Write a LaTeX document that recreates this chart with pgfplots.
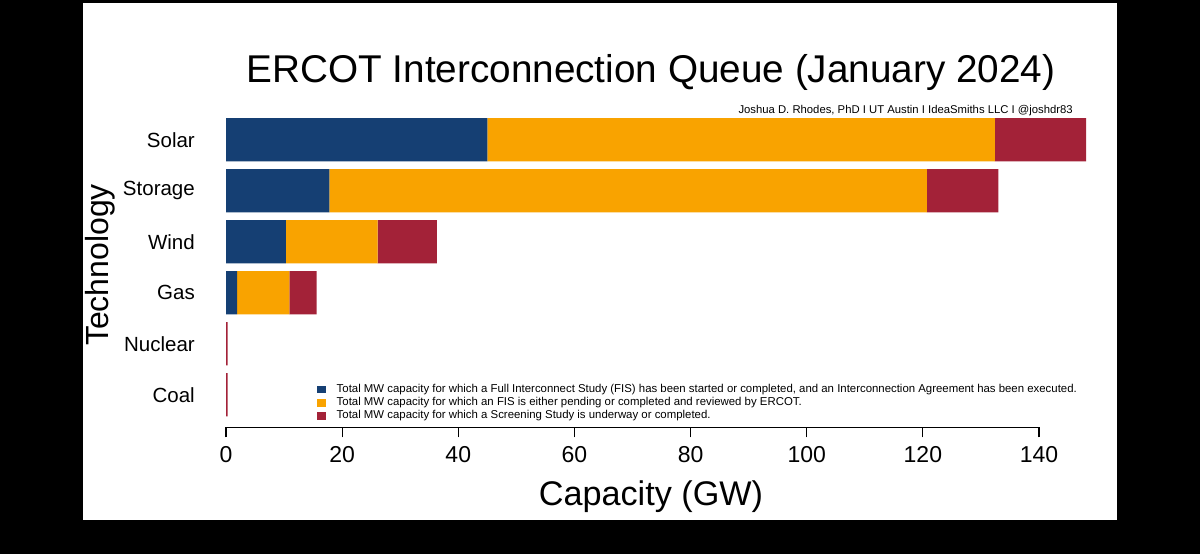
\documentclass[border=0pt]{standalone}
\usepackage{pgfplots}
\pgfplotsset{compat=1.18}
\usepackage{fontspec}
\setmainfont{Liberation Sans}
\definecolor{cblue}{RGB}{21,63,115}
\definecolor{corange}{RGB}{249,163,0}
\definecolor{cred}{RGB}{163,34,56}
\begin{document}
\begin{tikzpicture}
\fill[black] (0pt,0pt) rectangle (1200pt,554pt);
\fill[white] (83pt,34pt) rectangle (1117pt,551pt);
\node[anchor=base, font=\fontsize{38.7}{42}\selectfont, inner sep=0pt] at (651pt,471.3pt) {ERCOT Interconnection Queue (January 2024)};
\node[anchor=base east, font=\fontsize{11.3}{13}\selectfont, inner sep=0pt] at (1073pt,440.5pt) {Joshua D. Rhodes, PhD I UT Austin I IdeaSmiths LLC I @joshdr83};
\node[anchor=base, font=\fontsize{34.2}{36}\selectfont, inner sep=0pt] at (651pt,48.5pt) {Capacity (GW)};
\node[rotate=90, anchor=base, font=\fontsize{32}{34}\selectfont, inner sep=0pt] at (108pt,289pt) {Technology};
\begin{axis}[
  at={(226pt,126.5pt)}, anchor=south west,
  scale only axis, width=813pt, height=313.3pt,
  xbar stacked, bar width=43.3pt,
  xmin=0, xmax=140, ymin=-0.643, ymax=5.5,
  clip=false,
  axis x line*=bottom, axis y line*=left,
  y axis line style={draw=none}, ytick style={draw=none},
  x axis line style={line width=1.1pt},
  xtick style={line width=1.1pt, black},
  tick align=outside, major tick length=10pt,
  xtick={0,20,40,60,80,100,120,140},
  ytick={0,1,2,3,4,5},
  yticklabels={Coal,Nuclear,Gas,Wind,Storage,Solar},
  /pgf/number format/assume math mode=true,
  xticklabel style={font=\fontsize{23}{25}\selectfont, inner sep=0pt, yshift=-8.5pt},
  yticklabel style={font=\fontsize{20.5}{22}\selectfont, inner sep=0pt, xshift=-21pt},
  legend style={at={(0.1116,0.137)}, anchor=north west, draw=none, fill=none,
    inner sep=0pt, outer sep=0pt, font=\fontsize{11.4}{12}\selectfont,
    row sep=3.3pt,
    nodes={inner sep=0pt, text height=7.8pt, text depth=2.2pt}},
  legend cell align=left,
  legend image code/.code={\fill[#1] (0pt,-3.8pt) rectangle (9.5pt,3.8pt); \path (20pt,0pt);},
]
\addplot[fill=cblue, draw=none] coordinates {(0,0) (0,1) (1.9,2) (10.3,3) (17.8,4) (45.0,5)};
\addplot[fill=corange, draw=none] coordinates {(0,0) (0,1) (9.0,2) (15.8,3) (102.9,4) (87.4,5)};
\addplot[fill=cred, draw=none] coordinates {(0.28,0) (0.28,1) (4.7,2) (10.2,3) (12.3,4) (15.7,5)};
\legend{{Total MW capacity for which a Full Interconnect Study (FIS) has been started or completed, and an Interconnection Agreement has been executed.},
{Total MW capacity for which an FIS is either pending or completed and reviewed by ERCOT.},
{Total MW capacity for which a Screening Study is underway or completed.}}
\end{axis}
\end{tikzpicture}
\end{document}
